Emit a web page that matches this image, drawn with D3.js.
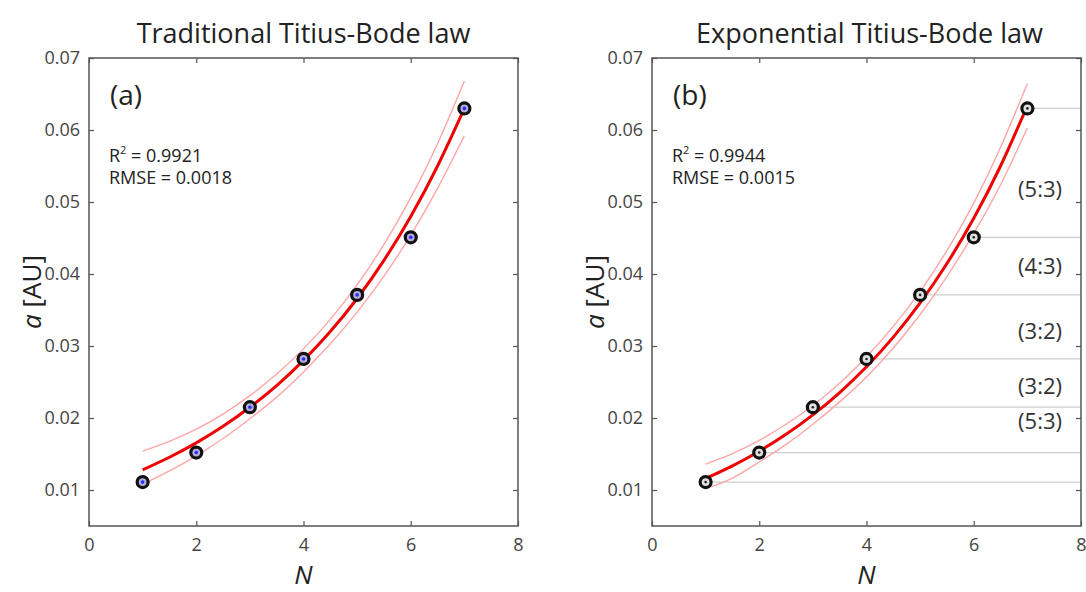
<!DOCTYPE html>
<html>
<head>
<meta charset="utf-8">
<script src="https://cdn.jsdelivr.net/npm/d3@7"></script>
<style>
  html, body { margin: 0; padding: 0; background: #fff; }
  svg { display: block; }
  text { font-family: "Open Sans", "Noto Sans", sans-serif; }
</style>
</head>
<body>
<svg id="chart" width="1086" height="592"></svg>
<script>
// ---------------- data ----------------
const planetN = [1, 2, 3, 4, 5, 6, 7];
const planetA = [0.0111, 0.0152, 0.0215, 0.0282, 0.0371, 0.0451, 0.0630];

const xTicks = [0, 2, 4, 6, 8];
const yTicks = [0.01, 0.02, 0.03, 0.04, 0.05, 0.06, 0.07];

// fitted curves (N = 1 .. 7 in half steps)
const fitN = [1, 1.5, 2, 2.5, 3, 3.5, 4, 4.5, 5, 5.5, 6, 6.5, 7];
const tradFit   = [0.0128, 0.01455, 0.01655, 0.01885, 0.0215, 0.0245, 0.0280, 0.0320, 0.0366, 0.0419, 0.0480, 0.0550, 0.0630];
const tradUpper = [0.0154, 0.01675, 0.01845, 0.02055, 0.0231, 0.0261, 0.0296, 0.0337, 0.0385, 0.0441, 0.0506, 0.0581, 0.0668];
const tradLower = [0.0108, 0.01265, 0.01475, 0.01715, 0.0199, 0.0229, 0.0264, 0.0303, 0.0347, 0.0397, 0.0454, 0.0519, 0.0592];

const expFit    = [0.0116, 0.01336, 0.01539, 0.01773, 0.02043, 0.02354, 0.02711, 0.03123, 0.03598, 0.04145, 0.04775, 0.05500, 0.06337];
const expUpper  = [0.0136, 0.01506, 0.01689, 0.01913, 0.02173, 0.02484, 0.02851, 0.03273, 0.03758, 0.04325, 0.04985, 0.0576, 0.06647];
const expLower  = [0.0102, 0.01166, 0.01389, 0.01633, 0.01913, 0.02224, 0.02571, 0.02973, 0.03438, 0.03965, 0.04565, 0.0524, 0.06027];

const panelTitles = ["Traditional Titius-Bode law", "Exponential Titius-Bode law"];
const panelTags = ["(a)", "(b)"];
const panelR2 = ["0.9921", "0.9944"];
const panelRMSE = ["0.0018", "0.0015"];

// resonance labels between successive planets (right panel)
const ratioLabels = ["(5:3)", "(4:3)", "(3:2)", "(3:2)", "(5:3)"];
const ratioLabelA = [0.0517, 0.0411, 0.0321, 0.0244, 0.0195];

// ---------------- drawing ----------------
const svg = d3.select("#chart");
svg.append("rect").attr("width", 1086).attr("height", 592).attr("fill", "#fff");

const plotTop = 58, plotBottom = 526;
const panels = [
  { x0: 89, x1: 518, fit: tradFit, up: tradUpper, lo: tradLower, kind: "trad" },
  { x0: 652, x1: 1081, fit: expFit, up: expUpper, lo: expLower, kind: "exp" }
];

const axisColor = "#555";
const labelColor = "#444";

panels.forEach((p, i) => {
  const x = d3.scaleLinear().domain([0, 8]).range([p.x0, p.x1]);
  const y = d3.scaleLinear().domain([0.005, 0.07]).range([plotBottom, plotTop]);
  const g = svg.append("g");

  // horizontal level lines (right panel)
  if (p.kind === "exp") {
    g.selectAll("line.level").data(planetA).join("line")
      .attr("class", "level")
      .attr("x1", (d, j) => x(planetN[j]))
      .attr("x2", p.x1)
      .attr("y1", d => y(d)).attr("y2", d => y(d))
      .attr("stroke", "#cfcfcf").attr("stroke-width", 1.3);
    g.selectAll("text.ratio").data(ratioLabels).join("text")
      .attr("class", "ratio")
      .attr("x", p.x1 - 19)
      .attr("y", (d, j) => y(ratioLabelA[j]))
      .attr("dy", "0.35em")
      .attr("text-anchor", "end")
      .attr("font-size", 22)
      .attr("fill", "#333")
      .text(d => d);
  }

  // axes (ticks inward on all four sides)
  const axB = d3.axisBottom(x).tickValues(xTicks).tickSize(-5).tickPadding(12).tickFormat(d3.format("d"));
  const axT = d3.axisTop(x).tickValues(xTicks).tickSize(-5).tickFormat("");
  const axL = d3.axisLeft(y).tickValues(yTicks).tickSize(-5).tickPadding(9).tickFormat(d3.format(".2f"));
  const axR = d3.axisRight(y).tickValues(yTicks).tickSize(-5).tickFormat("");

  const gb = g.append("g").attr("transform", `translate(0,${plotBottom})`).call(axB);
  const gt = g.append("g").attr("transform", `translate(0,${plotTop})`).call(axT);
  const gl = g.append("g").attr("transform", `translate(${p.x0},0)`).call(axL);
  const gr = g.append("g").attr("transform", `translate(${p.x1},0)`).call(axR);
  [gb, gt, gl, gr].forEach(a => {
    a.select(".domain").remove();
    a.selectAll("line").attr("stroke", axisColor).attr("stroke-width", 1.2);
    a.selectAll("text").attr("font-size", 18).attr("fill", labelColor)
      .attr("font-family", "'Open Sans', sans-serif");
  });

  // frame
  g.append("rect")
    .attr("x", p.x0).attr("y", plotTop)
    .attr("width", p.x1 - p.x0).attr("height", plotBottom - plotTop)
    .attr("fill", "none").attr("stroke", axisColor).attr("stroke-width", 1.5);

  // fit curves
  const line = d3.line().x((d, j) => x(fitN[j])).y(d => y(d)).curve(d3.curveNatural);
  [p.up, p.lo].forEach(arr => {
    g.append("path").attr("d", line(arr))
      .attr("fill", "none").attr("stroke", "#ffa6a6").attr("stroke-width", 1.4);
  });
  g.append("path").attr("d", line(p.fit))
    .attr("fill", "none").attr("stroke", "#f00000").attr("stroke-width", 3);

  // planet markers
  const mk = g.selectAll("g.mk").data(planetA).join("g").attr("class", "mk")
    .attr("transform", (d, j) => `translate(${x(planetN[j])},${y(d)})`);
  mk.append("circle").attr("r", 5.5)
    .attr("fill", p.kind === "trad" ? "#b3acd8" : "#e0e0e0")
    .attr("stroke", "#111").attr("stroke-width", 3.2);
  mk.append("circle").attr("r", p.kind === "trad" ? 1.8 : 1.3)
    .attr("fill", p.kind === "trad" ? "#2b2bff" : "#222");

  // titles & labels
  const cx = (p.x0 + p.x1) / 2;
  svg.append("text").attr("x", cx + (i === 1 ? 3 : 0)).attr("y", 43)
    .attr("text-anchor", "middle").attr("font-size", 27).attr("fill", "#222")
    .text(panelTitles[i]);
  svg.append("text").attr("x", p.x0 + 21).attr("y", 105)
    .attr("font-size", 28).attr("fill", "#222").text(panelTags[i]);
  const st = svg.append("text").attr("x", p.x0 + 20).attr("y", 162)
    .attr("font-size", 18).attr("fill", "#222");
  st.append("tspan").text("R");
  st.append("tspan").attr("font-size", 11).attr("dy", -8).text("2");
  st.append("tspan").attr("dy", 8).text(" = " + panelR2[i]);
  svg.append("text").attr("x", p.x0 + 20).attr("y", 184)
    .attr("font-size", 18).attr("fill", "#222").text("RMSE = " + panelRMSE[i]);

  // axis titles
  svg.append("text").attr("x", cx).attr("y", 584)
    .attr("text-anchor", "middle").attr("font-size", 26).attr("font-style", "italic")
    .attr("fill", "#222").text("N");
  const yl = svg.append("text")
    .attr("transform", `translate(${p.x0 - 48},292) rotate(-90)`)
    .attr("text-anchor", "middle").attr("font-size", 26).attr("fill", "#222");
  yl.append("tspan").attr("font-style", "italic").text("a");
  yl.append("tspan").text(" [AU]");
});
</script>
</body>
</html>
